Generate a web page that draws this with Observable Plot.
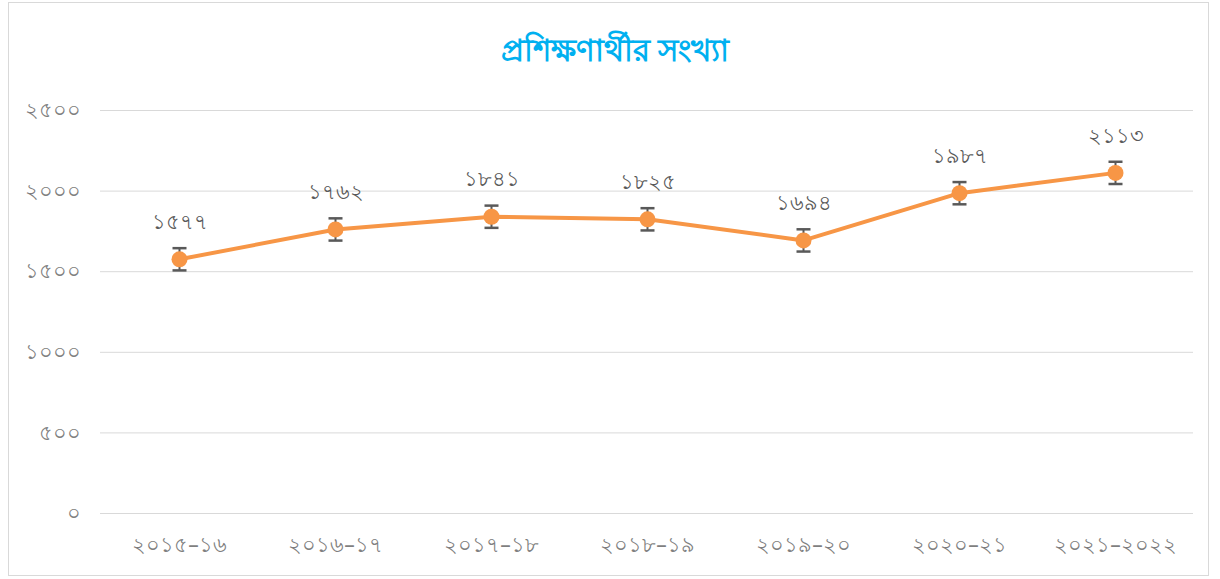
<!DOCTYPE html>
<html>
<head>
<meta charset="utf-8">
<script src="https://cdn.jsdelivr.net/npm/d3@7"></script>
<script src="https://cdn.jsdelivr.net/npm/@observablehq/plot@0.6"></script>
<style>
  html, body { margin: 0; padding: 0; background: #fff; }
  #wrap { position: relative; width: 1220px; height: 579px; overflow: hidden; font-family: "Noto Sans", sans-serif; }
  #frame { position: absolute; left: 8px; top: 2px; width: 1201px; height: 574px; border: 1px solid #d9d9d9; box-sizing: border-box; pointer-events: none; }
  #title { position: absolute; left: 0; width: 1230px; top: 29px; text-align: center; font-size: 31px; font-weight: bold; color: #00B0F0; line-height: 40px; }
  #chart { position: absolute; left: 0; top: 0; }
</style>
</head>
<body>
<div id="wrap">
  <div id="frame"></div>
  <div id="chart"></div>
  <div id="title">প্রশিক্ষণার্থীর সংখ্যা</div>
</div>
<script>
const categories = ["২০১৫–১৬", "২০১৬–১৭", "২০১৭–১৮", "২০১৮–১৯", "২০১৯–২০", "২০২০–২১", "২০২১–২০২২"];
const values = [1577, 1762, 1841, 1825, 1694, 1987, 2113];
const valueLabels = ["১৫৭৭", "১৭৬২", "১৮৪১", "১৮২৫", "১৬৯৪", "১৯৮৭", "২১১৩"];
const errors = [69, 69, 69, 69, 69, 69, 69];
const yTicks = [0, 500, 1000, 1500, 2000, 2500];
const yTickLabels = ["০", "৫০০", "১০০০", "১৫০০", "২০০০", "২৫০০"];

const data = categories.map((c, i) => ({
  cat: c, value: values[i], label: valueLabels[i],
  lo: values[i] - errors[i], hi: values[i] + errors[i]
}));

const capSymbol = {
  draw(ctx, size) { ctx.moveTo(-7, 0); ctx.lineTo(7, 0); }
};

const chart = Plot.plot({
  width: 1220,
  height: 579,
  marginTop: 110,
  marginBottom: 66,
  marginLeft: 100,
  marginRight: 27,
  style: { fontFamily: "'Noto Sans', sans-serif", background: "transparent" },
  x: { type: "point", domain: categories, padding: 0.5, label: null },
  y: { domain: [0, 2500], label: null },
  marks: [
    Plot.gridY(yTicks, { stroke: "#d9d9d9", strokeOpacity: 1, strokeWidth: 1 }),
    Plot.axisY(yTicks, {
      tickSize: 0, tickPadding: 20, label: null,
      tickFormat: d => yTickLabels[yTicks.indexOf(d)],
      fontSize: 21, fill: "#7f7f7f"
    }),
    Plot.axisX({
      tickSize: 0, tickPadding: 24, label: null,
      fontSize: 21, fill: "#7f7f7f"
    }),
    Plot.line(data, { x: "cat", y: "value", stroke: "#F79646", strokeWidth: 4, curve: "linear" }),
    Plot.ruleX(data, { x: "cat", y1: "lo", y2: "hi", stroke: "#595959", strokeWidth: 2 }),
    Plot.dot(data, { x: "cat", y: "lo", symbol: capSymbol, r: 5, stroke: "#595959", strokeWidth: 2.5 }),
    Plot.dot(data, { x: "cat", y: "hi", symbol: capSymbol, r: 5, stroke: "#595959", strokeWidth: 2.5 }),
    Plot.dot(data, { x: "cat", y: "value", r: 8, fill: "#F79646", stroke: "none" }),
    Plot.text(data, { x: "cat", y: "value", text: "label", dy: -37, fontSize: 21, fill: "#595959" })
  ]
});
document.getElementById("chart").appendChild(chart);
</script>
</body>
</html>
